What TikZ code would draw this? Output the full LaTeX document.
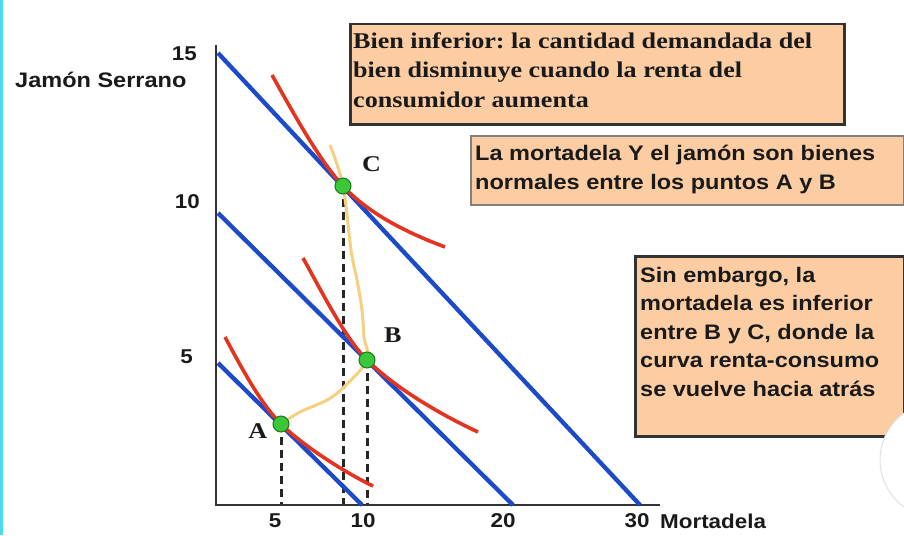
\documentclass[tikz,border=0pt]{standalone}
\usepackage{fontspec}
\setmainfont{Liberation Serif}
\newfontfamily\jamonsans{Liberation Sans}[FakeStretch=1.12]
\newfontfamily\jamonserif{Liberation Serif}[FakeStretch=1.16]
\usetikzlibrary{positioning}
\definecolor{budgetblue}{RGB}{28,74,200}
\definecolor{curvered}{RGB}{228,52,32}
\definecolor{iccyellow}{RGB}{244,208,128}
\definecolor{pointgreen}{RGB}{58,200,58}
\definecolor{pointedge}{RGB}{30,120,30}
\definecolor{notefill}{RGB}{252,205,162}
\definecolor{screencyan}{RGB}{70,222,232}
\definecolor{inktext}{RGB}{26,26,26}
\frenchspacing

\begin{document}
\begin{tikzpicture}[x=1pt,y=-1pt,
 axis line/.style={draw=black!80, line width=2.5pt},
 budget line/.style={draw=budgetblue, line width=4.3pt},
 indiff curve/.style={draw=curvered, line width=3.6pt},
 icc curve/.style={draw=iccyellow, line width=3pt},
 guide line/.style={draw=black!85, line width=3pt, dash pattern=on 8pt off 5pt},
 point node/.style={circle, draw=pointedge, fill=pointgreen, line width=1pt, minimum size=16pt, inner sep=0pt},
 point label/.style={inner sep=0pt, text=inktext, font=\jamonserif\bfseries\fontsize{22.5}{27}\selectfont},
 axis label/.style={inner sep=0pt, text=inktext, font=\jamonsans\bfseries\fontsize{20}{24}\selectfont},
 note box/.style={draw=black!80, line width=2.5pt, fill=notefill, anchor=north west, inner sep=0pt},
 note text/.style={anchor=north west, inner sep=0pt, align=left, text=inktext}]
  \useasboundingbox (0,0) rectangle (904,535);
  \fill[white] (0,0) rectangle (904,535);
  \fill[screencyan] (0,0) rectangle (2.5,535);

  \coordinate (origin) at (216,505);
  \coordinate (ytop) at (216,45);
  \coordinate (xend) at (660,505);
  \coordinate (pA) at (281,424);
  \coordinate (pB) at (367,360);
  \coordinate (pC) at (343,186);

  \foreach \p in {pA, pB, pC} {
   \draw[guide line] (\p) -- (\p |- origin);}

  \draw[axis line] (ytop) -- (origin) -- (xend);

  \foreach \name/\ys/\xe in {inner/363/362, middle/213/513, outer/53/640} {
   \coordinate (\name start) at (218,\ys);
   \coordinate (\name end) at (\xe,505);
   \draw[budget line] (\name start) -- (\name end);}

  \draw[indiff curve] (272,75) .. controls (296,118) and (320,161) .. (pC)
    .. controls (368,213) and (405,232) .. (445,247);
  \draw[indiff curve] (303,258) .. controls (322,292) and (345,338) .. (pB)
    .. controls (392,385) and (435,412) .. (478,432);
  \draw[indiff curve] (225,337) .. controls (240,365) and (260,403) .. (pA)
    .. controls (300,443) and (340,470) .. (373,486);

  \draw[icc curve] plot[smooth, tension=0.6] coordinates {(pA) (300,412) (327,400)
    (345,386) (pB) (364,337) (362,310) (357,280) (351,250) (pC) (330,145)};

  \node[point node] (A) at (pA) {};
  \node[point node] (B) at (pB) {};
  \node[point node] (C) at (pC) {};
  \node[point label, left=5pt of A, yshift=-7pt] (A label) {A};
  \node[point label, above right=11pt and 11pt of B] (B label) {B};
  \node[point label, above right=8pt and 13pt of C] (C label) {C};

  \foreach \v/\x in {5/275, 10/363, 20/503, 30/637} {
   \node[axis label, anchor=base] (x\v) at (\x,527) {\v};}
  \foreach \v/\x/\y in {15/197/60, 10/200/208, 5/193/363} {
   \node[axis label, anchor=base east] (y\v) at (\x,\y) {\v};}
  \node[axis label, anchor=base west] (xname) at (660,528) {Mortadela};
  \node[axis label, anchor=base west, font=\jamonsans\bfseries\fontsize{21}{24}\selectfont] (yname) at (15,87) {Jamón Serrano};

  \node[note box, minimum width=494pt, minimum height=100pt] (inferior box) at (349,23) {};
  \node[note text, font=\jamonserif\bfseries\fontsize{22.5}{29.5}\selectfont]
    (inferior text) at ([shift={(4,9)}]inferior box.north west)
    {Bien inferior: la cantidad demandada del\\bien disminuye cuando la renta del\\consumidor aumenta};

  \node[note box, draw=black!50, line width=2pt, minimum width=433pt, minimum height=69pt] (normal box) at (470,135) {};
  \node[note text, font=\jamonsans\bfseries\fontsize{21}{28.5}\selectfont]
    (normal text) at ([shift={(5,10)}]normal box.north west)
    {La mortadela Y el jamón son bienes\\normales entre los puntos A y B};

  \node[note box, minimum width=269pt, minimum height=180pt] (backward box) at (634,255) {};
  \node[note text, font=\jamonsans\bfseries\fontsize{21}{28.5}\selectfont]
    (backward text) at ([shift={(6,12)}]backward box.north west)
    {Sin embargo, la\\mortadela es inferior\\entre B y C, donde la\\curva renta-consumo\\se vuelve hacia atrás};

  \fill[white, draw=black!12, line width=1pt] (938,460) circle (58);
\end{tikzpicture}
\end{document}
